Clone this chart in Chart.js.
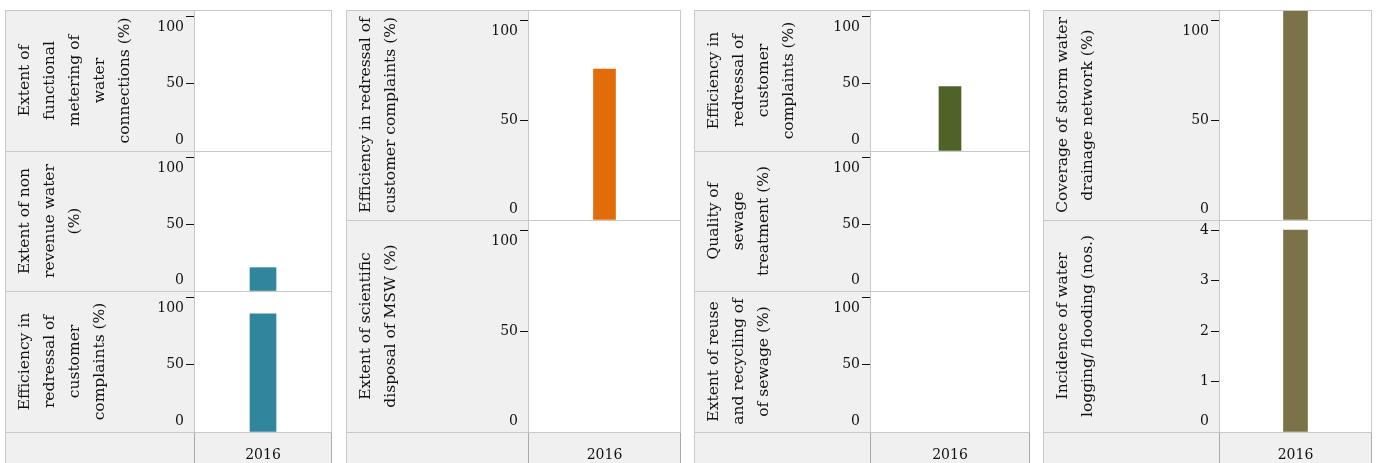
<!DOCTYPE html>
<html>
<head>
<meta charset="utf-8">
<script src="https://cdn.jsdelivr.net/npm/chart.js@4"></script>
<style>
  body { margin: 0; background: #fff; width: 1377px; height: 463px; overflow: hidden; position: relative; }
  canvas { position: absolute; background: #f0f0f0; }
</style>
</head>
<body>
<script>
// values
const years = ['2016'];

const meteringPct = [null];
const nonRevenuePct = [17.5];
const waterRedressalPct = [88];

const swmRedressalPct = [75.5];
const mswDisposalPct = [null];

const sewageRedressalPct = [48];
const sewageQualityPct = [null];
const sewageReusePct = [null];

const stormCoveragePct = [105];
const floodingCount = [4];

const pctTicks = [0, 50, 100];
const countTicks = [0, 1, 2, 3, 4];

// layout of the four columns (page px)
const cols = [
  { left: 5,    plot: 194,  right: 331,  bar: 26, color: '#31859c', rows: [10, 151, 291, 432] },
  { left: 346,  plot: 528,  right: 680,  bar: 22, color: '#e36c0a', rows: [10, 220, 432] },
  { left: 694,  plot: 870,  right: 1029, bar: 22, color: '#4f6228', rows: [10, 151, 291, 432] },
  { left: 1043, plot: 1219, right: 1371, bar: 24, color: '#7b7347', rows: [10, 220, 432] }
];
const headerH = 31;
const textColor = '#111';

const panels = [
  { col: 0, row: 0, data: meteringPct, title: ['Extent of', 'functional', 'metering of', 'water', 'connections (%)'], max: 105, ticks: pctTicks, flushTop: true },
  { col: 0, row: 1, data: nonRevenuePct, title: ['Extent of non', 'revenue water', '(%)'], max: 105, ticks: pctTicks, flushTop: true },
  { col: 0, row: 2, data: waterRedressalPct, title: ['Efficiency in', 'redressal of', 'customer', 'complaints (%)'], max: 105, ticks: pctTicks, flushTop: true },
  { col: 1, row: 0, data: swmRedressalPct, title: ['Efficiency in redressal of', 'customer complaints (%)'], max: 105, ticks: pctTicks, flushTop: true },
  { col: 1, row: 1, data: mswDisposalPct, title: ['Extent of scientific', 'disposal of MSW (%)'], max: 105, ticks: pctTicks, flushTop: true },
  { col: 2, row: 0, data: sewageRedressalPct, title: ['Efficiency in', 'redressal of', 'customer', 'complaints (%)'], max: 105, ticks: pctTicks, flushTop: true },
  { col: 2, row: 1, data: sewageQualityPct, title: ['Quality of', 'sewage', 'treatment (%)'], max: 105, ticks: pctTicks, flushTop: true },
  { col: 2, row: 2, data: sewageReusePct, title: ['Extent of reuse', 'and recycling of', 'of sewage (%)'], max: 105, ticks: pctTicks, flushTop: true },
  { col: 3, row: 0, data: stormCoveragePct, title: ['Coverage of storm water', 'drainage network (%)'], max: 105, ticks: pctTicks, flushTop: true },
  { col: 3, row: 1, data: floodingCount, title: ['Incidence of water', 'logging/ flooding (nos.)'], max: 4.2, ticks: countTicks, flushTop: false }
];

Chart.defaults.font.family = 'DejaVu Serif';

// white plot area + cell borders
const frame = {
  id: 'frame',
  beforeDraw(chart) {
    const { ctx, chartArea: a } = chart;
    ctx.save();
    ctx.fillStyle = '#fff';
    ctx.fillRect(a.left, a.top, a.right - a.left, a.bottom - a.top);
    ctx.restore();
  },
  afterDraw(chart) {
    const { ctx, chartArea: a, width: w, height: h } = chart;
    const last = chart.options.plugins.frame.last;
    const px = Math.round(a.left) + 0.5;
    ctx.save();
    ctx.lineWidth = 1;
    ctx.strokeStyle = '#c8c8c8';
    ctx.beginPath();
    ctx.moveTo(0, 0.5); ctx.lineTo(w, 0.5);
    ctx.moveTo(0.5, 0); ctx.lineTo(0.5, h);
    ctx.moveTo(w - 0.5, 0); ctx.lineTo(w - 0.5, a.bottom);
    ctx.moveTo(px, 0); ctx.lineTo(px, a.bottom);
    if (last) { ctx.moveTo(0, a.bottom + 0.5); ctx.lineTo(w, a.bottom + 0.5); }
    ctx.stroke();
    if (last) {
      ctx.strokeStyle = '#aaa';
      ctx.beginPath();
      ctx.moveTo(px, a.bottom + 1); ctx.lineTo(px, h);
      ctx.moveTo(w - 0.5, a.bottom + 1); ctx.lineTo(w - 0.5, h);
      ctx.stroke();
    }
    ctx.restore();
  }
};

panels.forEach(function (p) {
  const c = cols[p.col];
  const last = p.row === c.rows.length - 2;
  const top = c.rows[p.row];
  const bottom = c.rows[p.row + 1];
  const canvas = document.createElement('canvas');
  canvas.width = c.right - c.left + 1;
  canvas.height = bottom - top + (last ? headerH : 0);
  canvas.style.left = c.left + 'px';
  canvas.style.top = top + 'px';
  document.body.appendChild(canvas);

  new Chart(canvas, {
    type: 'bar',
    data: {
      labels: years,
      datasets: [{ data: p.data, backgroundColor: c.color, borderWidth: 0, barThickness: c.bar }]
    },
    plugins: [frame],
    options: {
      responsive: false,
      animation: false,
      layout: { padding: 0, autoPadding: false },
      plugins: { legend: { display: false }, tooltip: { enabled: false }, frame: { last: last } },
      scales: {
        x: {
          display: last,
          grid: { display: false, drawTicks: false },
          border: { display: false },
          ticks: { padding: 15, color: textColor, font: { size: 14 } },
          afterFit: function (s) {
            s.height = last ? headerH : 0;
            s.paddingLeft = 0;
            s.paddingRight = 0;
          }
        },
        y: {
          min: 0,
          max: p.max,
          afterBuildTicks: function (s) { s.ticks = p.ticks.map(v => ({ value: v })); },
          afterFit: function (s) { s.width = c.plot - c.left; s.paddingTop = 0; s.paddingBottom = 0; },
          grid: { drawOnChartArea: false, drawTicks: true, tickLength: 8, tickColor: '#111', tickWidth: 1 },
          border: { display: false },
          ticks: {
            autoSkip: false,
            padding: 2,
            color: textColor,
            font: { size: 14, lineHeight: '22px' },
            callback: function (v) {
              const s = String(v);
              if (v === 0) return [s, ''];
              if (p.flushTop && v === p.ticks[p.ticks.length - 1]) return ['', s];
              return s;
            }
          },
          title: {
            display: true,
            text: p.title,
            color: textColor,
            font: { size: 15.5, lineHeight: '25px' },
            padding: { top: 7.5, bottom: 0 }
          }
        }
      }
    }
  });
});
</script>
</body>
</html>
